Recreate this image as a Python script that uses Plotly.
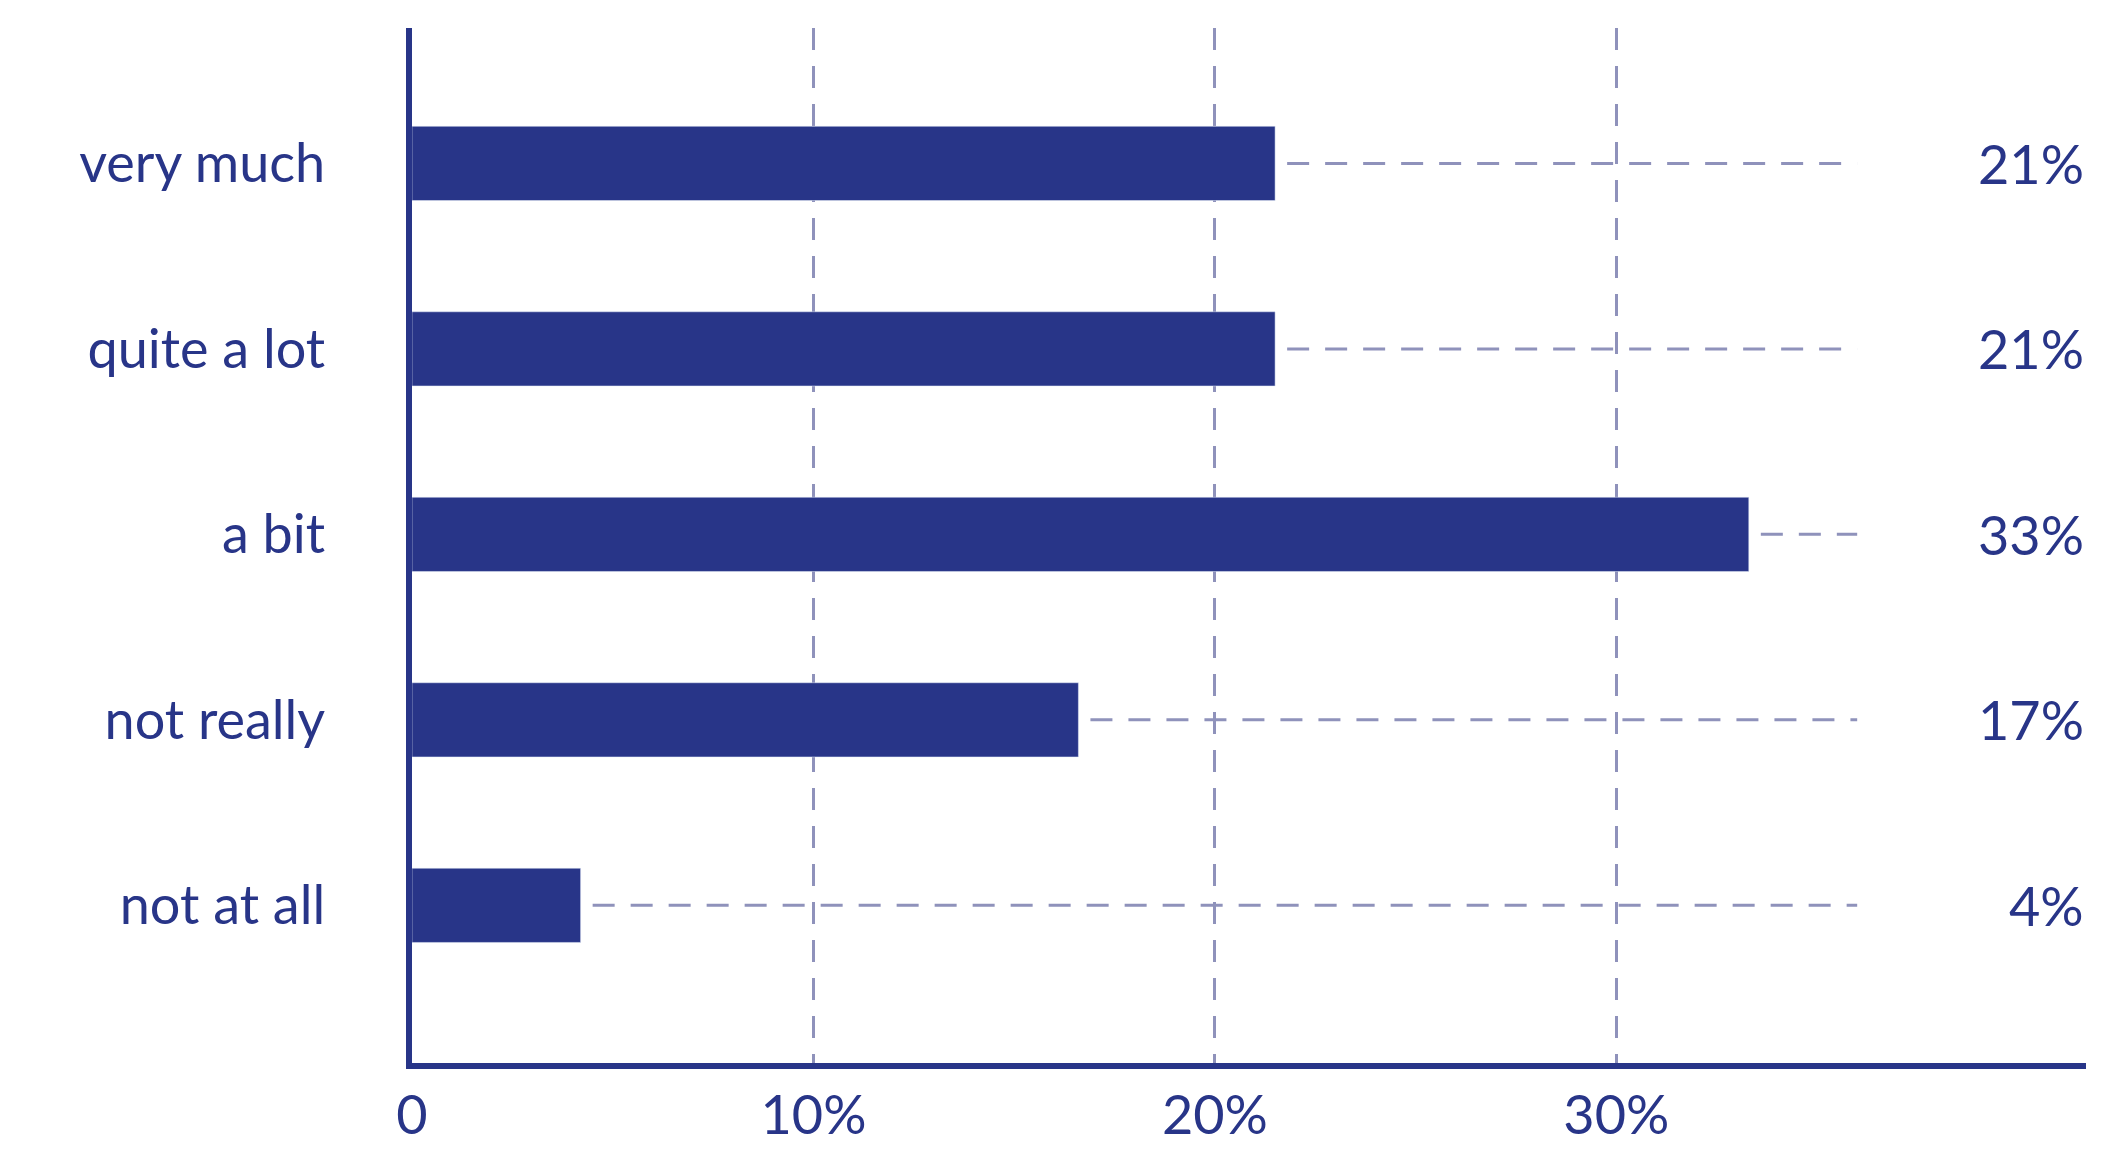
import plotly.graph_objects as go

# Survey answers, top to bottom
categories = ["very much", "quite a lot", "a bit", "not really", "not at all"]
shares = [21.5, 21.5, 33.3, 16.6, 4.2]
share_labels = ["21%", "21%", "33%", "17%", "4%"]
tick_vals = [0, 10, 20, 30]
tick_text = ["0", "10%", "20%", "30%"]

navy = "#283588"
grid = "#8f92bb"
font = "Lato, 'Open Sans', sans-serif"
dash = "22px,16px"

fig = go.Figure()

# dashed leaders from the bar end to the right
for cat, v in zip(categories, shares):
    fig.add_trace(go.Scatter(x=[v + 0.3, 36], y=[cat, cat], mode="lines",
                             line=dict(color=grid, width=3, dash=dash),
                             hoverinfo="skip", showlegend=False))

fig.add_trace(go.Bar(x=shares, y=categories, orientation="h",
                     marker=dict(color=navy), width=0.4, showlegend=False))

for cat, lab in zip(categories, share_labels):
    fig.add_annotation(x=1, xref="paper", y=cat, yref="y", text=lab,
                       showarrow=False, xanchor="right",
                       font=dict(size=54, color=navy, family=font))

fig.update_layout(
    width=2118, height=1169,
    margin=dict(l=404, r=40, t=20, b=114),
    plot_bgcolor="white", paper_bgcolor="white",
    font=dict(family=font, color=navy, size=54),
    xaxis=dict(range=[0, 41.7], tickvals=tick_vals, ticktext=tick_text,
               showgrid=True, gridcolor=grid, griddash=dash, gridwidth=3,
               showline=True, linecolor=navy, linewidth=6, zeroline=False,
               ticks="", ticklen=0, tickfont=dict(size=54, color=navy)),
    yaxis=dict(type="category", range=[4.85, -0.73], showgrid=False,
               showline=True, linecolor=navy, linewidth=6, zeroline=False,
               ticks="outside", ticklen=70, tickcolor="white",
               tickfont=dict(size=54, color=navy)),
)

fig.write_html("out.html")
